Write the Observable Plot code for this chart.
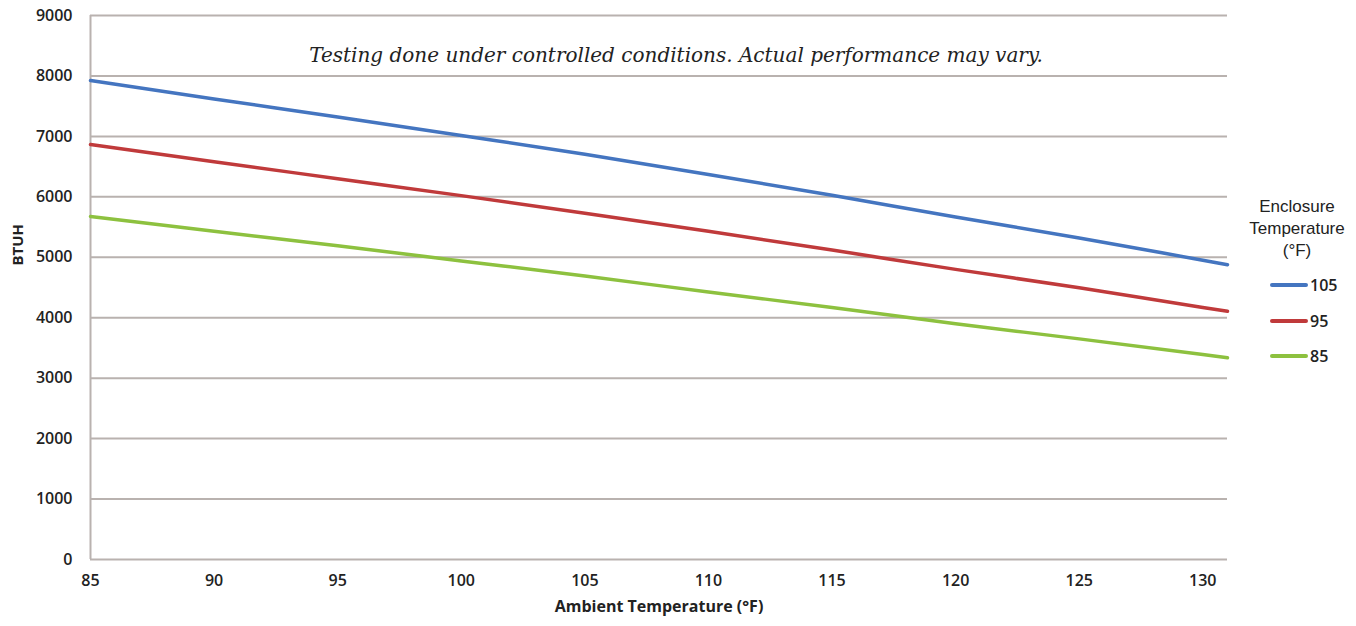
<!DOCTYPE html>
<html>
<head>
<meta charset="utf-8">
<script src="https://cdn.jsdelivr.net/npm/d3@7"></script>
<script src="https://cdn.jsdelivr.net/npm/@observablehq/plot@0.6"></script>
<style>
  html, body { margin: 0; padding: 0; background: #fff; }
  #wrap { position: relative; width: 1356px; height: 626px; }
  #legend { position: absolute; left: 1238px; top: 196px; width: 118px; font-family: "Liberation Sans", Arial, sans-serif; color: #222; }
  #legend .title { text-align: center; font-size: 17px; line-height: 22px; }
  #legend .item { position: absolute; left: 32px; height: 20px; display: flex; align-items: center; font-family: "Open Sans", sans-serif; font-weight: 600; font-size: 16px; }
  #legend .sw { display: inline-block; width: 38px; height: 4px; border-radius: 2px; margin-right: 2px; }
</style>
</head>
<body>
<div id="wrap"></div>
<script>
const ambient = [85, 90, 95, 100, 105, 110, 115, 120, 125, 130, 131];
const btuh105 = [7925, 7620, 7320, 7015, 6705, 6370, 6025, 5665, 5320, 4950, 4876];
const btuh95  = [6866, 6580, 6300, 6020, 5730, 5430, 5120, 4800, 4495, 4170, 4108];
const btuh85  = [5675, 5430, 5190, 4940, 4690, 4425, 4170, 3900, 3650, 3390, 3337];
const series = ["105", "95", "85"];
const colors = ["#4475c0", "#c03a3b", "#8dc13f"];
const xTicks = [85, 90, 95, 100, 105, 110, 115, 120, 125, 130];
const yTicks = [0, 1000, 2000, 3000, 4000, 5000, 6000, 7000, 8000, 9000];
const note = "Testing done under controlled conditions. Actual performance may vary.";
const xLabel = "Ambient Temperature (°F)";
const yLabel = "BTUH";
const legendTitle = ["Enclosure", "Temperature", "(°F)"];

const values = [btuh105, btuh95, btuh85];
const data = [];
series.forEach((s, i) => ambient.forEach((a, j) => data.push({enc: s, ambient: a, btuh: values[i][j]})));

const gridColor = "#b9b2af";
const tickFont = {fontFamily: "'Open Sans', sans-serif", fontWeight: 600};

const chart = Plot.plot({
  width: 1356,
  height: 626,
  marginLeft: 90,
  marginRight: 129,
  marginTop: 15,
  marginBottom: 67,
  style: {fontSize: "16px", color: "#222", background: "#fff"},
  x: {domain: [85, 131], label: null},
  y: {domain: [0, 9000], label: null},
  color: {domain: series, range: colors},
  marks: [
    Plot.gridY(yTicks, {stroke: gridColor, strokeOpacity: 1, strokeWidth: 2}),
    Plot.ruleX([85], {stroke: gridColor, strokeWidth: 2}),
    Plot.axisX(xTicks, {tickSize: 0, tickPadding: 15, tickFormat: "d", ...tickFont, fontSize: 16, fill: "#222"}),
    Plot.axisY(yTicks, {tickSize: 0, tickPadding: 18, tickFormat: "d", ...tickFont, fontSize: 16, fill: "#222"}),
    Plot.line(data, {x: "ambient", y: "btuh", stroke: "enc", strokeWidth: 3.5, curve: "monotone-x"}),
    Plot.text([note], {frameAnchor: "top", dx: 17, dy: 32, text: d => d, fontFamily: "'DejaVu Serif', serif", fontStyle: "italic", fontSize: 20, fill: "#222"}),
    Plot.text([xLabel], {frameAnchor: "bottom", dy: 52, text: d => d, fontFamily: "'Open Sans', sans-serif", fontWeight: 700, fontSize: 16, fill: "#222"}),
    Plot.text([yLabel], {frameAnchor: "left", dx: -72, dy: -22, rotate: -90, text: d => d, fontFamily: "'Open Sans', sans-serif", fontWeight: 700, fontSize: 15, fill: "#222"})
  ]
});

const wrap = document.getElementById("wrap");
wrap.appendChild(chart);

const legend = document.createElement("div");
legend.id = "legend";
const title = document.createElement("div");
title.className = "title";
title.innerHTML = legendTitle.join("<br>");
legend.appendChild(title);
series.forEach((s, i) => {
  const item = document.createElement("div");
  item.className = "item";
  item.style.top = (79 + i * 35.5) + "px";
  const sw = document.createElement("span");
  sw.className = "sw";
  sw.style.background = colors[i];
  item.appendChild(sw);
  item.appendChild(document.createTextNode(s));
  legend.appendChild(item);
});
wrap.appendChild(legend);
</script>
</body>
</html>
